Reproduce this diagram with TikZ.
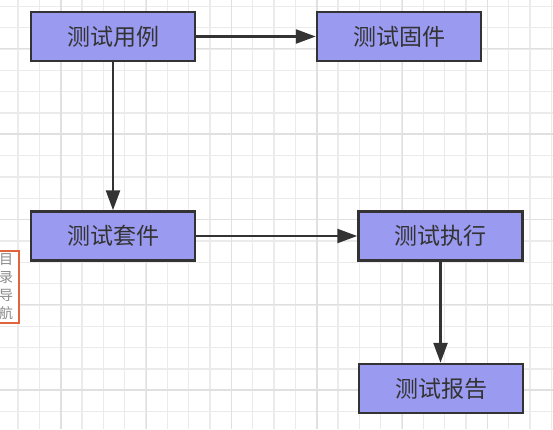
\documentclass[tikz,border=0pt]{standalone}
\usepackage{fontspec}
\newfontfamily\cjk{Noto Sans CJK SC}
\usetikzlibrary{arrows.meta}
\definecolor{boxfill}{HTML}{9A9AF0}
\definecolor{boxline}{HTML}{333333}
\definecolor{gridminor}{HTML}{EBEBEB}
\definecolor{gridmajor}{HTML}{E0E0E0}
\definecolor{navline}{HTML}{E0643C}
\definecolor{navtext}{HTML}{8A8A8A}
\tikzset{
  stepbox/.style={draw=boxline, line width=2.5pt, fill=boxfill, minimum width=164pt, minimum height=49pt, inner sep=0pt, font=\cjk\fontsize{23}{27}\selectfont, text=boxline},
  conn/.style={draw=boxline, line width=2.5pt, -{Triangle[length=20pt,width=14pt]}}
}
\begin{document}
\begin{tikzpicture}[x=1pt,y=-1pt]
\useasboundingbox (0,0) rectangle (553,429);
\fill[white] (0,0) rectangle (553,429);
% grid
\foreach \k in {-9,...,16} {
  \pgfmathsetmacro{\xx}{210+21.333*\k}
  \draw[gridminor, line width=1.2pt] (\xx,0) -- (\xx,429);
}
\foreach \k in {-4,...,16} {
  \pgfmathsetmacro{\yy}{91.7+21.333*\k}
  \draw[gridminor, line width=1.2pt] (0,\yy) -- (553,\yy);
}
\foreach \k in {-2,...,4} {
  \pgfmathsetmacro{\xx}{231.7+85.333*\k}
  \draw[gridmajor, line width=1.2pt] (\xx,0) -- (\xx,429);
}
\foreach \k in {-1,...,3} {
  \pgfmathsetmacro{\yy}{134+85.333*\k}
  \draw[gridmajor, line width=1.2pt] (0,\yy) -- (553,\yy);
}
% nodes
\node[stepbox] (case) at (113,36.5) {测试用例};
\node[stepbox] (fixture) at (399,36.5) {测试固件};
\node[stepbox] (suite) at (113,236) {测试套件};
\node[stepbox] (run) at (440.5,236) {测试执行};
\node[stepbox] (report) at (441,388.5) {测试报告};
% connectors
\draw[conn] (case.east) -- (fixture.west);
\draw[conn] (case.south) -- (suite.north);
\draw[conn] (suite.east) -- (run.west);
\draw[conn] (run.south) -- (run.south |- report.north);
% nav box
\node[draw=navline, line width=2pt, fill=white, minimum width=26pt, minimum height=72pt, inner sep=0pt, align=center, text=navtext, font=\cjk\fontsize{14}{18}\selectfont] (nav) at (6,286.5) {目\\录\\导\\航};
\end{tikzpicture}
\end{document}
